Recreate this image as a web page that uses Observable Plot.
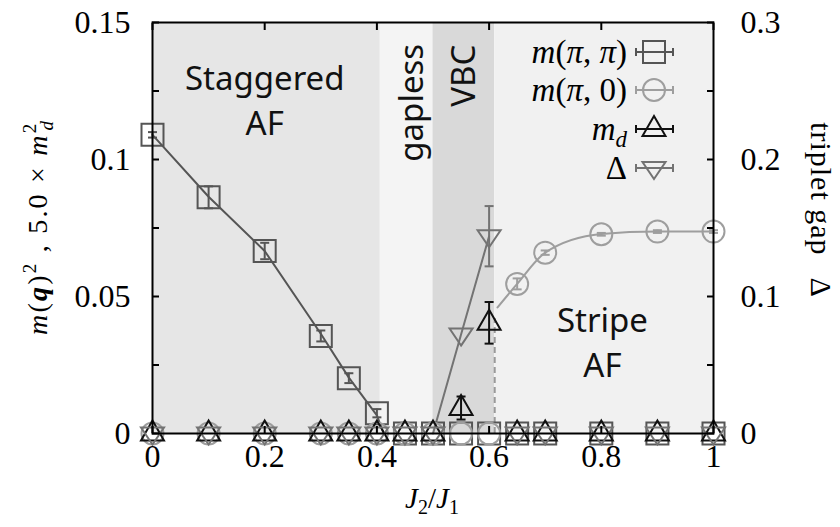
<!DOCTYPE html>
<html><head><meta charset="utf-8">
<script src="https://cdn.jsdelivr.net/npm/d3@7"></script>
<script src="https://cdn.jsdelivr.net/npm/@observablehq/plot@0.6"></script>
<style>body{margin:0;background:#fff} svg{display:block}</style>
</head><body><div id="chart"></div>
<script>
// ---- data ----
const J        = [0, 0.1, 0.2, 0.3, 0.35, 0.4, 0.45, 0.5, 0.55, 0.6, 0.65, 0.7, 0.8, 0.9, 1.0];
const mPiPi    = [0.109, 0.0862, 0.0666, 0.0356, 0.0202, 0.0074, 0, 0, 0, 0, 0, 0, 0, 0, 0];
const mPiPiErr = [0.001, 0.004, 0.003, 0.002, 0.0018, 0.0015, 0, 0, 0, 0, 0, 0, 0, 0, 0];
const mPi0     = [0, 0, 0, 0, 0, 0, 0, 0, 0, 0, 0.0546, 0.066, 0.0727, 0.0737, 0.0737];
const mPi0Err  = [0, 0, 0, 0, 0, 0, 0, 0, 0, 0, 0.002, 0.0008, 0.0005, 0.0005, 0.0005];
const md       = [0, 0, 0, 0, 0, 0, 0, 0, 0.0093, 0.0404, 0, 0, 0, 0, 0];
const mdErr    = [0, 0, 0, 0, 0, 0, 0, 0, 0.0042, 0.0076, 0, 0, 0, 0, 0];
const gap      = [0, 0, 0, 0, 0, 0, 0, 0, 0.0722, 0.144, 0, 0, 0, 0, 0];   // right axis units
const gapErr   = [0, 0, 0, 0, 0, 0, 0, 0, 0, 0.022, 0, 0, 0, 0, 0];

const fitPiPiJ = [0, 0.1, 0.2, 0.3, 0.35, 0.4, 0.412];
const fitPiPi  = [0.109, 0.0864, 0.0666, 0.0364, 0.0204, 0.0066, 0];
const fitPi0J  = [0.615, 0.65, 0.7, 0.8, 0.9, 1.0];
const fitPi0   = [0.046, 0.0546, 0.066, 0.0728, 0.0737, 0.0737];
const gapLineJ = [0.5, 0.55, 0.6];
const gapLine  = [0, 0.0722, 0.144];

const phaseStart = [0, 0.406, 0.5, 0.61];
const phaseEnd   = [0.406, 0.5, 0.61, 1.0];
const phaseNames = ["Staggered\nAF", "gapless", "VBC", "Stripe\nAF"];
const phaseLabelX = [0.2, 0.456, 0.549, 0.802];
const phaseLabelY = [0.1225, 0.1207, 0.1306, 0.034];
const vbcEdge = [0.61];
const vbcEdgeTop = 0.042;

const xTicks = [0, 0.2, 0.4, 0.6, 0.8, 1];
const yTicks = [0, 0.05, 0.1, 0.15];
const yMinorTicks = [0, 0.025, 0.05, 0.075, 0.1, 0.125, 0.15];
const rightTicks = [0, 0.1, 0.2, 0.3];
const rightScale = 2; // right axis = 2 x left axis

// ---- styles ----
const SERIF = "Liberation Serif, Times New Roman, DejaVu Serif, serif";
const SANS = "Noto Sans, Lato, sans-serif";
const phaseFill = ["#e6e6e6", "#f4f4f4", "#d9d9d9", "#f1f1f1"];
const cPiPi = "#555555", cPi0 = "#9e9e9e", cMd = "#111111", cGap = "#737373";

const rows = J.map((x, i) => ({x, pp: mPiPi[i], ppe: mPiPiErr[i], p0: mPi0[i], p0e: mPi0Err[i],
  md: md[i], mde: mdErr[i], g: gap[i] / rightScale, ge: gapErr[i] / rightScale}));
const phases = phaseNames.map((n, i) => ({n, x1: phaseStart[i], x2: phaseEnd[i], fill: phaseFill[i],
  lx: phaseLabelX[i], ly: phaseLabelY[i]}));

const sq = {draw(c){ c.moveTo(-11,-11); c.lineTo(11,-11); c.lineTo(11,11); c.lineTo(-11,11); c.closePath(); }};
const triUp = {draw(c){ c.moveTo(0,-13); c.lineTo(11.5,7); c.lineTo(-11.5,7); c.closePath(); }};
const triDown = {draw(c){ c.moveTo(0,11); c.lineTo(11.5,-6); c.lineTo(-11.5,-6); c.closePath(); }};
const cap = {draw(c){ c.moveTo(-4.5,0); c.lineTo(4.5,0); }};

function series(key, ekey, color, symbol, r) {
  const withErr = rows.filter(d => d[ekey] > 0);
  return [
    Plot.ruleX(withErr, {x: "x", y1: d => d[key] - d[ekey], y2: d => d[key] + d[ekey], stroke: color, strokeWidth: 2}),
    Plot.dot(withErr, {x: "x", y: d => d[key] - d[ekey], symbol: cap, stroke: color, strokeWidth: 2}),
    Plot.dot(withErr, {x: "x", y: d => d[key] + d[ekey], symbol: cap, stroke: color, strokeWidth: 2}),
    Plot.dot(rows, {x: "x", y: key, symbol, r: r || 11, stroke: color, strokeWidth: 2, fill: "none"})
  ];
}

const chart = Plot.plot({
  width: 840, height: 527,
  marginLeft: 152, marginRight: 127, marginTop: 22, marginBottom: 94,
  x: {domain: [0, 1]},
  y: {domain: [0, 0.15]},
  style: {fontSize: "32px", background: "white", color: "black"},
  marks: [
    Plot.rect(phases, {x1: "x1", x2: "x2", y1: 0, y2: 0.15, fill: "fill"}),
    Plot.ruleX(vbcEdge, {y1: 0, y2: vbcEdgeTop, stroke: "#9a9a9a", strokeWidth: 2, strokeDasharray: "6,4"}),
    Plot.line(fitPiPiJ.map((x, i) => ({x, y: fitPiPi[i]})), {x: "x", y: "y", stroke: cPiPi, strokeWidth: 2}),
    Plot.line(fitPi0J.map((x, i) => ({x, y: fitPi0[i]})), {x: "x", y: "y", stroke: cPi0, strokeWidth: 2, curve: "monotone-x"}),
    Plot.line(gapLineJ.map((x, i) => ({x, y: gapLine[i] / rightScale})), {x: "x", y: "y", stroke: cGap, strokeWidth: 2}),
    ...series("pp", "ppe", cPiPi, sq),
    ...series("p0", "p0e", cPi0, "circle", 11),
    ...series("md", "mde", cMd, triUp),
    ...series("g", "ge", cGap, triDown),
    // axes: labels
    Plot.axisY(yTicks, {anchor: "left", tickSize: 0, tickPadding: 22, tickFormat: d => d3.format("")(d), label: null, fontFamily: SERIF, fontSize: 32}),
    Plot.axisY(rightTicks.map(d => d / rightScale), {anchor: "right", tickSize: 0, tickPadding: 27,
      tickFormat: d => d3.format("")(+(d * rightScale).toFixed(3)), label: null, fontFamily: SERIF, fontSize: 32}),
    Plot.axisX(xTicks, {anchor: "bottom", tickSize: 0, tickPadding: 11, tickFormat: d => d3.format("")(d), label: null, fontFamily: SERIF, fontSize: 32}),
    // inward ticks
    Plot.axisY(yMinorTicks, {anchor: "left", tickSize: -7, tickFormat: () => "", label: null, strokeWidth: 2}),
    Plot.axisY(yMinorTicks, {anchor: "right", tickSize: -7, tickFormat: () => "", label: null, strokeWidth: 2}),
    Plot.axisX(xTicks, {anchor: "top", tickSize: -7, tickFormat: () => "", label: null, strokeWidth: 2}),
    Plot.axisX(xTicks, {anchor: "bottom", tickSize: -7, tickFormat: () => "", label: null, strokeWidth: 2}),
    Plot.text(phases, {x: "lx", y: "ly", text: "n", rotate: d => (d.n === "gapless" || d.n === "VBC") ? -90 : 0,
      fontFamily: SANS, fontSize: 33, lineHeight: 1.36, fill: "#111", lineAnchor: "middle"}),
    Plot.frame({stroke: "black", strokeWidth: 2})
  ]
});
document.getElementById("chart").appendChild(chart);

// ---- axis titles and legend (rich text) ----
const svg = d3.select(chart);

const xl = svg.append("text").attr("x", 432).attr("y", 508).attr("text-anchor", "middle")
  .style("font-family", SERIF).style("font-size", "29px");
xl.append("tspan").style("font-style", "italic").text("J");
xl.append("tspan").attr("dy", 6).style("font-size", "20px").text("2");
xl.append("tspan").attr("dy", -6).text("/");
xl.append("tspan").style("font-style", "italic").text("J");
xl.append("tspan").attr("dy", 6).style("font-size", "20px").text("1");

const yl = svg.append("text").attr("transform", "translate(47,228) rotate(-90)").attr("text-anchor", "middle")
  .attr("textLength", 214).attr("lengthAdjust", "spacing")
  .style("font-family", SERIF).style("font-size", "28px");
yl.append("tspan").style("font-style", "italic").text("m");
yl.append("tspan").text("(");
yl.append("tspan").style("font-style", "italic").style("font-weight", "bold").text("q");
yl.append("tspan").text(")");
yl.append("tspan").attr("dy", -11).style("font-size", "19px").text("2");
yl.append("tspan").attr("dy", 11).text(" , 5.0 × ");
yl.append("tspan").style("font-style", "italic").text("m");
yl.append("tspan").attr("dy", -11).style("font-size", "19px").text("2");
yl.append("tspan").attr("dx", -9).attr("dy", 17).style("font-size", "19px").style("font-style", "italic").text("d");

const rl = svg.append("text").attr("transform", "translate(811,210) rotate(90)").attr("text-anchor", "middle")
  .style("font-family", SERIF).style("font-size", "30px").style("letter-spacing", "1px");
rl.append("tspan").text("triplet gap");
rl.append("tspan").attr("dx", 22).text("Δ");

const legendItems = [
  {label: [["m", true], ["(", false], ["π", true], [", ", false], ["π", true], [")", false]], color: cPiPi, sym: sq},
  {label: [["m", true], ["(", false], ["π", true], [", 0)", false]], color: cPi0, sym: "circle"},
  {label: [["m", true], ["d", true, "sub"]], color: cMd, sym: triUp},
  {label: [["Δ", false]], color: cGap, sym: triDown}
];
const legendY = [52, 90, 129, 168];
legendItems.forEach((it, i) => {
  const g = svg.append("g").attr("transform", `translate(0,${legendY[i]})`);
  const t = g.append("text").attr("x", 627).attr("y", 11).attr("text-anchor", "end")
    .style("font-family", SERIF).style("font-size", "33px");
  it.label.forEach(([s, ital, sub]) => {
    const ts = t.append("tspan").style("font-style", ital ? "italic" : "normal").text(s);
    if (sub) ts.attr("dy", 7).style("font-size", "23px");
  });
  g.append("line").attr("x1", 636).attr("x2", 673).attr("y1", 0).attr("y2", 0).attr("stroke", it.color).attr("stroke-width", 2);
  g.append("line").attr("x1", 636).attr("x2", 636).attr("y1", -4).attr("y2", 4).attr("stroke", it.color).attr("stroke-width", 2);
  g.append("line").attr("x1", 673).attr("x2", 673).attr("y1", -4).attr("y2", 4).attr("stroke", it.color).attr("stroke-width", 2);
  const sym = it.sym === "circle" ? d3.symbol(d3.symbolCircle, Math.PI * 121) : d3.symbol(it.sym);
  g.append("path").attr("transform", "translate(654,0)").attr("d", sym()).attr("fill", "none")
    .attr("stroke", it.color).attr("stroke-width", 2);
});
</script>
</body></html>
